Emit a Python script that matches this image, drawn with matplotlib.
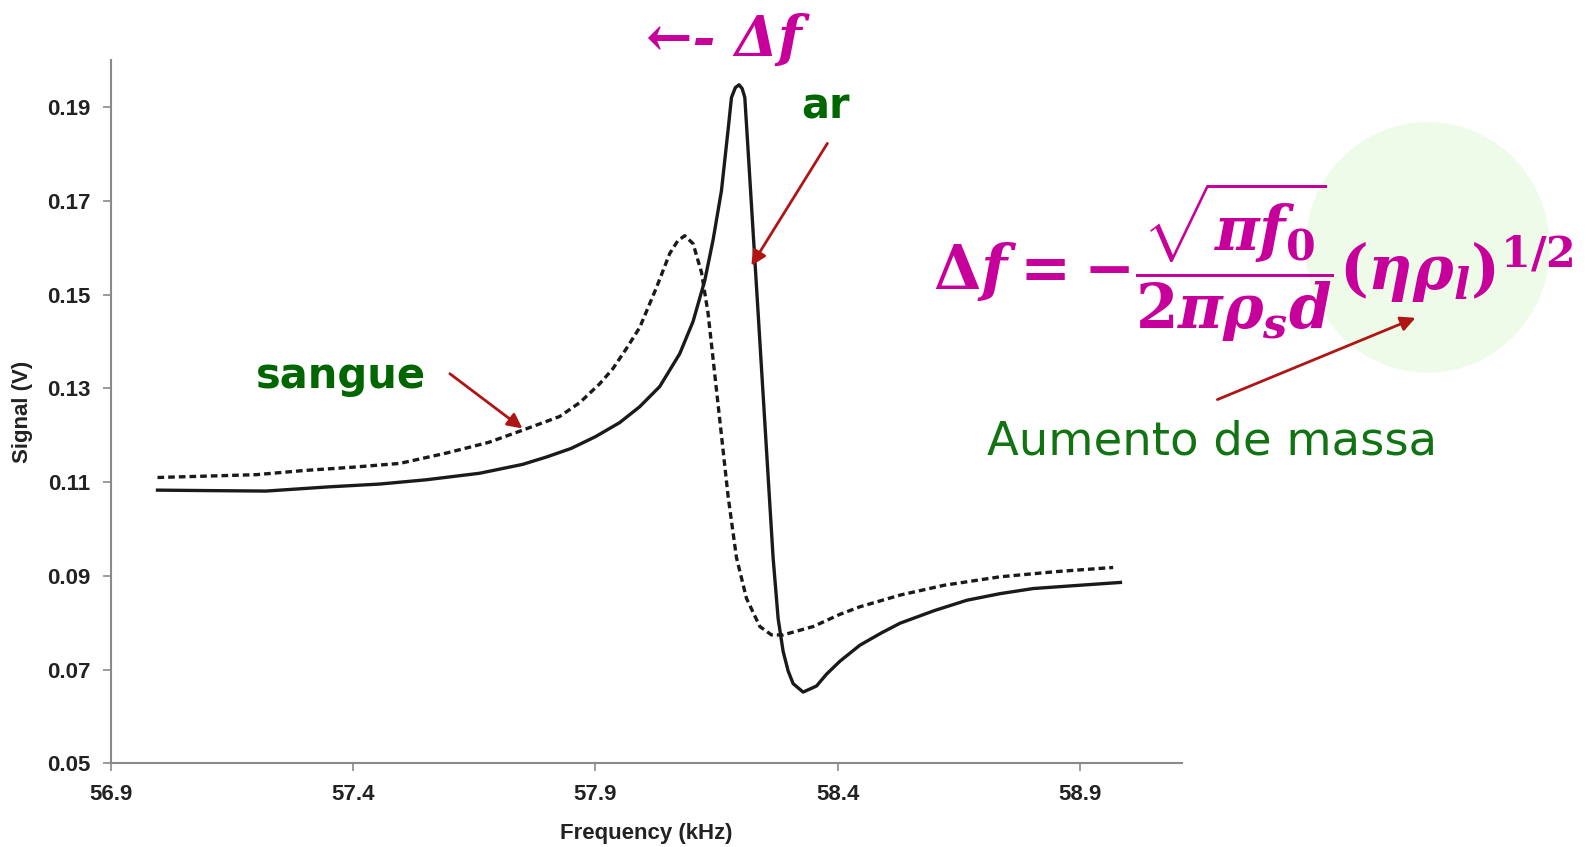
import matplotlib
matplotlib.use("Agg")
import matplotlib.pyplot as plt
from matplotlib.patches import Ellipse

# ---- data (kHz, V) ----
freq_ar = [56.996, 57.10, 57.22, 57.35, 57.455, 57.55, 57.661, 57.75, 57.80, 57.85,
           57.90, 57.95, 57.9915, 58.0328, 58.0741, 58.1017, 58.1258, 58.143, 58.1603,
           58.174, 58.181, 58.189, 58.1967, 58.203, 58.2085, 58.2153, 58.2256, 58.236,
           58.2463, 58.2566, 58.2669, 58.2773, 58.2876, 58.298, 58.3083, 58.3289, 58.3566,
           58.377, 58.405, 58.446, 58.49, 58.529, 58.60, 58.667, 58.735, 58.804, 58.90,
           58.984]
sig_ar = [0.1083, 0.1082, 0.1081, 0.1090, 0.1096, 0.1105, 0.1119, 0.1138, 0.1154, 0.1172,
          0.1197, 0.1227, 0.1261, 0.1304, 0.1374, 0.1443, 0.1530, 0.1617, 0.1722,
          0.1852, 0.1921, 0.1942, 0.1948, 0.1940, 0.1921, 0.1808, 0.1635, 0.1461,
          0.1287, 0.1113, 0.0939, 0.0809, 0.0739, 0.0697, 0.0670, 0.0652, 0.0665,
          0.0690, 0.0718, 0.0752, 0.0778, 0.0799, 0.0826, 0.0848, 0.0862, 0.0873, 0.0880,
          0.0886]

freq_sangue = [56.996, 57.10, 57.20, 57.30, 57.40, 57.496, 57.592, 57.68, 57.75, 57.826,
               57.868, 57.909, 57.936, 57.964, 57.9915, 58.026, 58.0535, 58.07, 58.0845,
               58.1017, 58.119, 58.1326, 58.1465, 58.1603, 58.174, 58.1913, 58.212,
               58.2395, 58.2636, 58.2876, 58.35, 58.405, 58.446, 58.529, 58.62, 58.735,
               58.85, 58.969]
sig_sangue = [0.1110, 0.1113, 0.1116, 0.1125, 0.1132, 0.1140, 0.1162, 0.1185, 0.1211, 0.1240,
              0.1270, 0.1310, 0.1342, 0.1385, 0.1430, 0.1515, 0.1588, 0.1615, 0.1626,
              0.1609, 0.1548, 0.1461, 0.1330, 0.1200, 0.1070, 0.0939, 0.0852,
              0.0792, 0.0774, 0.0774, 0.0792, 0.0818, 0.0834, 0.0859, 0.0880, 0.0898,
              0.0909, 0.0918]

x_ticks = [56.9, 57.4, 57.9, 58.4, 58.9]
y_ticks = [0.05, 0.07, 0.09, 0.11, 0.13, 0.15, 0.17, 0.19]

# ---- colours ----
green = "#006600"
magenta = "#c8009b"
red = "#b01515"
grey = "#8a8a8a"

plt.rcParams["mathtext.fontset"] = "custom"
plt.rcParams["mathtext.rm"] = "DejaVu Serif:bold"
plt.rcParams["mathtext.it"] = "DejaVu Serif:italic:bold"
plt.rcParams["mathtext.bf"] = "DejaVu Serif:bold"

fig = plt.figure(figsize=(15.88, 8.47), dpi=100)
ax = fig.add_axes([0.0699, 0.0988, 0.6744, 0.8304])

ax.plot(freq_ar, sig_ar, color="#1a1a1a", lw=2.4, zorder=3)
ax.plot(freq_sangue, sig_sangue, color="#1a1a1a", lw=2.4, dashes=(2.0, 1.2), zorder=3)

ax.set_xlim(56.9, 59.111)
ax.set_ylim(0.05, 0.2001)
ax.set_xticks(x_ticks)
ax.set_yticks(y_ticks)
ax.set_xticklabels([f"{v:.1f}" for v in x_ticks])
ax.set_yticklabels([f"{v:.2f}" for v in y_ticks])

for s in ["top", "right"]:
    ax.spines[s].set_visible(False)
ax.spines["left"].set_color(grey)
ax.spines["left"].set_linewidth(1.5)
ax.spines["bottom"].set_color(grey)
ax.spines["bottom"].set_linewidth(1.5)
ax.spines["bottom"].set_linestyle((0, (3, 1)))

ax.tick_params(axis="both", direction="out", length=6, width=1.2, color=grey,
               labelsize=16, labelcolor="#222222", pad=9)
for lbl in ax.get_xticklabels() + ax.get_yticklabels():
    lbl.set_fontweight("bold")
    lbl.set_family("Liberation Sans")

ax.set_xlabel("Frequency (kHz)", fontsize=16, fontweight="bold", family="Liberation Sans",
              color="#222222", labelpad=13)
ax.set_ylabel("Signal (V)", fontsize=16, fontweight="bold", family="Liberation Sans",
              color="#222222", labelpad=10)

# ---- annotations ----
ax.text(57.2, 0.1301, "sangue", color=green, fontsize=30, fontweight="bold",
        family="DejaVu Sans", ha="left", va="baseline")
ax.annotate("", xy=(57.754, 0.1211), xytext=(57.595, 0.1335),
            arrowprops=dict(arrowstyle="-|>", color=red, lw=2, mutation_scale=22))

ax.text(58.326, 0.1877, "ar", color=green, fontsize=30, fontweight="bold",
        family="DejaVu Sans", ha="left", va="baseline")
ax.annotate("", xy=(58.219, 0.1557), xytext=(58.382, 0.1828),
            arrowprops=dict(arrowstyle="-|>", color=red, lw=2, mutation_scale=22))

fig.text(0.456, 0.952, "\u2190- \u0394f", color=magenta, fontsize=40, fontweight="bold",
         family="DejaVu Serif", style="italic", ha="center", va="center")

fig.patches.append(Ellipse((0.899, 0.708), 0.154, 0.296, transform=fig.transFigure,
                           facecolor="#edfbe8", edgecolor="none", zorder=-1))

fig.text(0.789, 0.690, r"$\Delta f = -\dfrac{\sqrt{\pi f_0}}{2\pi\rho_s d}(\eta\rho_l)^{1/2}$",
         color=magenta, fontsize=44, ha="center", va="center")

fig.text(0.763, 0.478, "Aumento de massa", color="#127312", fontsize=33.5,
         family="DejaVu Sans", ha="center", va="center")
ax.annotate("", xy=(0.893, 0.626), xytext=(0.765, 0.527),
            xycoords="figure fraction", textcoords="figure fraction",
            arrowprops=dict(arrowstyle="-|>", color=red, lw=2, mutation_scale=22))

fig.savefig("out.png", dpi=100)
